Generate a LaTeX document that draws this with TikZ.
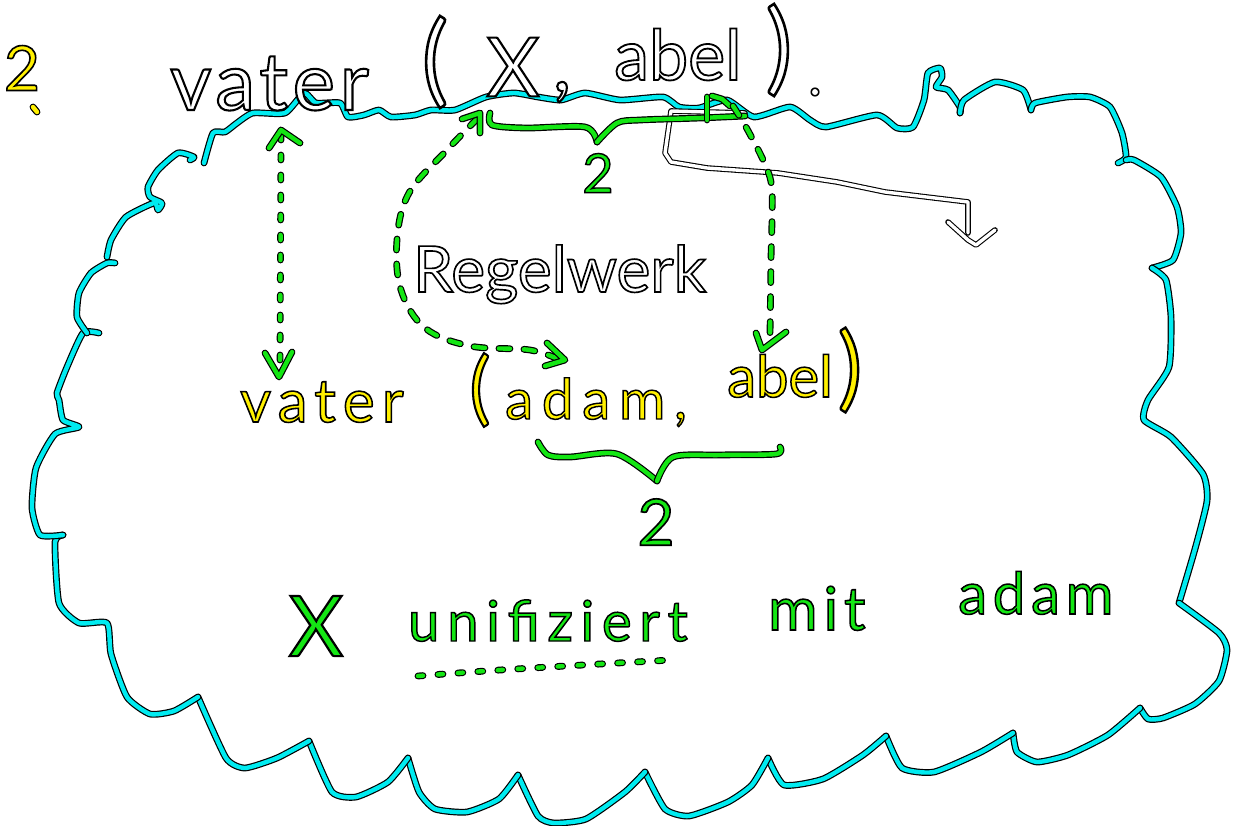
\documentclass[tikz,border=0pt]{standalone}
\usepackage{fontspec}
\setmainfont{Lato}
\definecolor{cyanc}{RGB}{0,235,240}
\definecolor{greenc}{RGB}{20,230,20}
\definecolor{yellowc}{RGB}{255,240,0}
\newcommand\hwt[4][0]{\fontsize{#2}{#2}\selectfont\addfontfeature{FakeBold=2.6,LetterSpace=#1}\textcolor{#3}{\special{pdf:code 0 G}#4}}
\tikzset{
 cl/.style={draw=black, double=cyanc, line width=1.2pt, double distance=4.4pt, line cap=round, line join=round},
 gl/.style={draw=black, double=greenc, line width=1.2pt, double distance=4.4pt, line cap=round, line join=round},
 yl/.style={draw=black, double=yellowc, line width=1.2pt, double distance=4.4pt, line cap=round, line join=round},
 wl/.style={draw=black, double=white, line width=1.1pt, double distance=3.4pt, line cap=round, line join=round},
 gdash/.style={gl, dash pattern=on 11pt off 14pt},
 gdot/.style={gl, dash pattern=on 5pt off 15pt},
 tb/.style={inner sep=0pt, anchor=base west},
 tc/.style={inner sep=0pt, anchor=center}
}
\begin{document}
\begin{tikzpicture}[x=1pt,y=-1pt]
\useasboundingbox (0,0) rectangle (1241,826);
% cloud
\draw[cl] plot[smooth, tension=0.35] coordinates {
(204,163) (213,133) (225,132) (237,123) (253,113) (285,113) (304,93) (316,103) (340,103) (348,117) (364,115) (379,110) (391,117) (415,115) (431,110) (455,110) (486,97) (514,93) (538,97) (561,100) (585,93) (620,100) (663,97) (679,107) (699,108) (727,100) (754,117) (790,107) (810,120) (826,127) (877,115) (897,128) (913,127) (924,100) (928,73) (940,68) (942,77) (936,87) (948,90) (960,107) (960,113)};
\draw[cl] plot[smooth, tension=0.35] coordinates {
(960,113) (964,100) (995,82) (1023,90) (1031,110)};
\draw[cl] plot[smooth, tension=0.35] coordinates {
(1031,110) (1035,103) (1067,97) (1090,97) (1110,107) (1122,133) (1126,157) (1118,163)};
\draw[cl] plot[smooth, tension=0.35] coordinates {
(1126,160) (1134,160) (1161,177) (1177,207) (1181,233) (1173,260) (1152,268)};
\draw[cl] plot[smooth, tension=0.35] coordinates {
(1152,268) (1166,280) (1171,317) (1169,367) (1148,400) (1144,420) (1171,437) (1203,474) (1207,501) (1195,549) (1179,603)};
\draw[cl] plot[smooth, tension=0.35] coordinates {
(1179,603) (1219,633) (1227,650) (1219,681) (1195,704) (1163,718) (1148,719) (1140,708)};
\draw[cl] plot[smooth, tension=0.35] coordinates {
(1140,708) (1108,735) (1068,755) (1037,762) (1017,752) (1013,733)};
\draw[cl] plot[smooth, tension=0.35] coordinates {
(1013,733) (981,752) (934,772) (902,768) (886,736)};
\draw[cl] plot[smooth, tension=0.35] coordinates {
(886,736) (863,755) (823,779) (784,785) (768,758)};
\draw[cl] plot[smooth, tension=0.35] coordinates {
(768,758) (752,785) (728,802) (689,816) (665,809) (645,772)};
\draw[cl] plot[smooth, tension=0.35] coordinates {
(645,772) (625,792) (586,819) (554,823) (538,816) (518,775)};
\draw[cl] plot[smooth, tension=0.35] coordinates {
(518,775) (499,799) (467,812) (435,809) (419,792) (408,758)};
\draw[cl] plot[smooth, tension=0.35] coordinates {
(408,758) (388,782) (356,797) (332,792) (309,741)};
\draw[cl] plot[smooth, tension=0.35] coordinates {
(309,741) (277,758) (245,768) (226,758) (198,697)};
\draw[cl] plot[smooth, tension=0.35] coordinates {
(198,697) (174,711) (150,714) (127,697) (111,654) (107,623) (79,623) (59,603) (55,542) (63,535)};
\draw[cl] plot[smooth, tension=0.35] coordinates {
(63,535) (40,535) (32,508) (36,468) (55,434) (79,427) (63,420) (59,400) (57,393) (67,367) (83,333) (99,333)};
\draw[cl] plot[smooth, tension=0.35] coordinates {
(87,333) (77,317) (79,293) (91,273) (107,263) (115,263)};
\draw[cl] plot[smooth, tension=0.35] coordinates {
(107,257) (111,240) (126,217) (154,203) (158,210) (162,203) (150,197) (148,187) (158,170) (178,153) (194,157) (190,160)};
% yellow "2."
\node[tc] (n2) at (22,68) {\hwt{62}{yellowc}{2}};
\draw[yl] (33,107) -- (37,112);
% white header
\node[tb] (v1) at (170,110) {\hwt[6]{80}{white}{vater}};
\node[tc] (p1) at (435,62) {\hwt{100}{white}{(}};
\node[tc] (x1) at (513,67) {\hwt{82}{white}{X}};
\node[tc] (c1) at (562,92) {\hwt{80}{white}{,}};
\node[tb] (a1) at (614,80) {\hwt{70}{white}{abel}};
\node[tc] (p2) at (779,50) {\hwt{100}{white}{)}};
\node[tc] (d1) at (815,92) {\hwt{60}{white}{.}};
% Regelwerk
\node[tb] (rw) at (413,292) {\hwt{64}{white}{Regelwerk}};
% white arrow
\coordinate (wa) at (745,113);
\coordinate (wb) at (970,240);
\draw[wl] (wa) -- (671,111) -- (665,153) -- (671,162) -- (707,168) -- (778,173) -- (837,182) -- (885,192) -- (968,202) -- (968,233);
\draw[wl] (948,222) -- (968,240) -- (976,245) -- (995,230);
% top green brace
\draw[gl] plot[smooth, tension=0.5] coordinates {(490,113) (492,125) (526,128) (585,127) (597,142)};
\draw[gl] plot[smooth, tension=0.5] coordinates {(597,142) (617,123) (640,120) (700,118) (745,116)};
\draw[gl] (707,97) -- (707,120);
\draw[gl] (712,96) -- (722,99) -- (730,106);
\node[tc] (g2a) at (598,173) {\hwt{54}{greenc}{2}};
% left dotted arrow
\coordinate (la) at (281,135);
\coordinate (lb) at (280,370);
\draw[gdot] (la) -- (lb);
\draw[gl] (269,148) -- (281,130) -- (300,143);
\draw[gl] (265,353) -- (279,377) -- (292,352);
% Regelwerk dashed arrow
\draw[gdash] plot[smooth, tension=0.6] coordinates {(478,118) (447,150) (409,193) (397,240) (401,290) (425,328) (470,346) (530,350) (560,360)};
\draw[gl] (462,119) -- (480,113) -- (480,133);
\draw[gl] (547,343) -- (565,360) -- (545,366);
% right dashed arrow
\draw[gdash] plot[smooth, tension=0.5] coordinates {(733,106) (746,127) (764,162) (772,190) (771,260) (770,335)};
\draw[gl] (756,333) -- (762,350) -- (786,332);
% yellow line
\node[tb] (v2) at (240,422) {\hwt[12]{60}{yellowc}{vater}};
\node[tc] (p3) at (480,390) {\hwt{80}{yellowc}{(}};
\node[tb] (a2) at (505,419) {\hwt[16]{56}{yellowc}{adam,}};
\node[tb] (a3) at (727,397) {\hwt{58}{yellowc}{abel}};
\node[tc] (p4) at (850,370) {\hwt{92}{yellowc}{)}};
% lower brace
\draw[gl] plot[smooth, tension=0.5] coordinates {(538,442) (548,455) (570,457) (617,454) (657,481)};
\draw[gl] plot[smooth, tension=0.5] coordinates {(657,481) (673,457) (720,455) (776,454) (780,447)};
\node[tc] (g2b) at (656,522) {\hwt{64}{greenc}{2}};
% bottom sentence
\node[tc] (xg) at (316,626) {\hwt{84}{greenc}{X}};
\node[tb] (un) at (408,641) {\hwt[14]{56}{greenc}{unifiziert}};
\node[tb] (mi) at (768,630) {\hwt[10]{60}{greenc}{mit}};
\node[tb] (ad) at (958,614) {\hwt[10]{58}{greenc}{adam}};
\draw[gdot] plot[smooth] coordinates {(418,676) (500,670) (600,664) (671,660)};
\end{tikzpicture}
\end{document}
